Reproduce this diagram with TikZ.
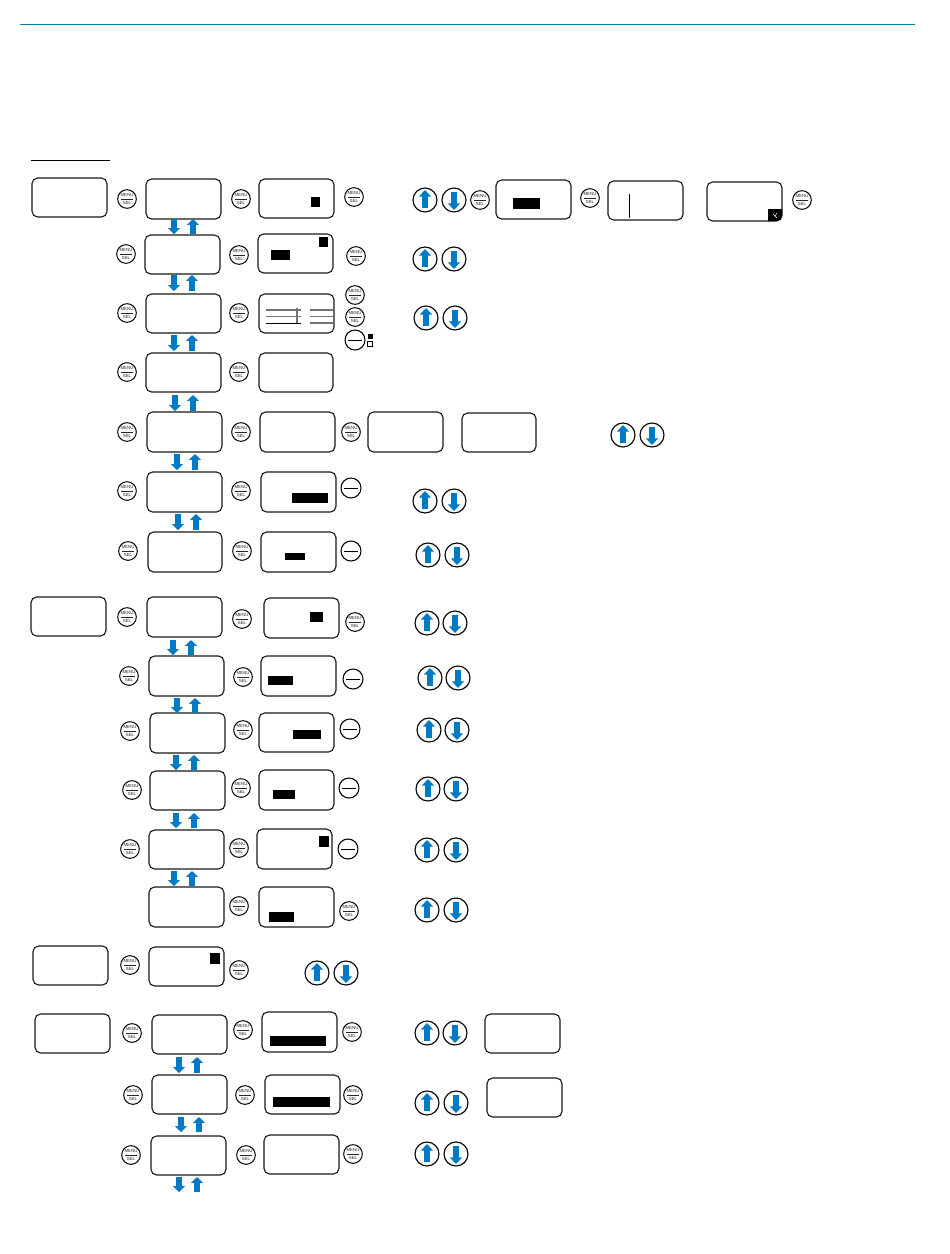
\documentclass[tikz,border=0pt]{standalone}
\usepackage{fontspec}
\setmainfont{Liberation Sans}
\usetikzlibrary{arrows.meta}
\definecolor{sblue}{RGB}{0,122,194}
\definecolor{steal}{RGB}{0,130,160}
\newcounter{nn}
\tikzset{
  lcdbox/.style={draw=black!90,line width=0.85pt,rounded corners=4.2pt,inner sep=0pt},
  menubtn/.style={circle,draw=black,line width=0.75pt,minimum size=14pt,inner sep=0pt,align=center,
     font=\fontsize{3.3}{3.8}\selectfont,text=black!85},
  roundbtn/.style={circle,draw=black,line width=0.8pt,minimum size=#1,inner sep=0pt},
  roundbtn/.default=15pt,
  arrowbtn/.style={circle,draw=black,line width=0.85pt,minimum size=18pt,inner sep=0pt},
  flowarrow/.style={draw=sblue,line width=3.8pt,-{Triangle[length=4.4pt,width=8.8pt]}},
  btnarrow/.style={draw=sblue,line width=4pt,-{Triangle[length=5pt,width=9pt]}},
  graybar/.style={draw=black!55,line width=0.8pt},
  blackbar/.style={draw=black,line width=0.7pt},
}
\newcommand{\lcd}[5]{\node[lcdbox,minimum width={(#4-#2)*0.75pt},minimum height={(#5-#3)*0.75pt}] (#1) at ({(#2+#4)/2},{(#3+#5)/2}) {};}
\newcommand{\mbtn}[2]{\stepcounter{nn}\node[menubtn] (m\thenn) at (#1,#2) {\underline{MENU}\\SEL};}
\newcommand{\minbtn}[2]{\stepcounter{nn}\node[roundbtn] (n\thenn) at (#1,#2) {};\draw[black,line width=0.75pt] (#1-7,#2) -- (#1+7,#2);}
\newcommand{\updn}[3]{%
  \stepcounter{nn}\node[arrowbtn] (u\thenn) at (#1,#3) {};
  \coordinate (ua\thenn) at (#1,#3+8); \coordinate (ub\thenn) at (#1,#3-10);
  \draw[btnarrow] (ua\thenn) -- (ub\thenn);
  \node[arrowbtn] (d\thenn) at (#2,#3) {};
  \coordinate (da\thenn) at (#2,#3-8); \coordinate (db\thenn) at (#2,#3+10);
  \draw[btnarrow] (da\thenn) -- (db\thenn);}
\newcommand{\blk}[4]{\fill[black] (#1,#2) rectangle (#3,#4);}
\newcommand{\flow}[6]{%
  \stepcounter{nn}
  \coordinate (fa\thenn) at (#3,#5); \coordinate (fb\thenn) at (#3,#6);
  \coordinate (fc\thenn) at (#4,#6); \coordinate (fd\thenn) at (#4,#5);
  \draw[flowarrow] (fa\thenn) -- (fb\thenn);
  \draw[flowarrow] (fc\thenn) -- (fd\thenn);}
\begin{document}
\begin{tikzpicture}[x=0.75pt,y=-0.75pt]
\useasboundingbox (0,0) rectangle (950,1254);
\coordinate (ra) at (20,24); \coordinate (rb) at (915,24);
\draw[steal,line width=0.7pt] (ra) -- (rb);
\coordinate (rc) at (31,160); \coordinate (rd) at (110,160);
\draw[black,line width=0.7pt] (rc) -- (rd);
% row 1
\lcd{a1}{32}{178}{107}{217}\lcd{b1}{146}{179}{221}{219}\lcd{c1}{259}{179}{334}{218}
\mbtn{127}{199}\mbtn{241}{199}\mbtn{354}{197}\updn{425}{454}{200}\mbtn{480}{200}
\lcd{e1}{496}{180}{571}{219}\mbtn{590}{198}\lcd{f1}{608}{181}{683}{220}\lcd{g1}{707}{182}{782}{221}\mbtn{802}{200}
\blk{311}{197}{320}{207}\blk{513}{198}{540}{209}
\coordinate (va) at (629,194); \coordinate (vb) at (629,218); \draw[black,line width=0.6pt] (va) -- (vb);
\fill[black] (768,209) -- (782,209) -- (782,216) arc[start angle=0,end angle=90,radius=5] -- (768,221) -- cycle;
\draw[white,line width=0.35pt] (773,214) -- (777,218) (777,213) -- (775,216);
% row 2
\lcd{b2}{145}{235}{220}{274}\lcd{c2}{258}{234}{333}{273}
\mbtn{126}{254}\mbtn{239}{255}\mbtn{356}{256}\updn{425}{454}{259}
\blk{319}{237}{328}{247}\blk{271}{250}{290}{260}
% row 3
\lcd{b3}{146}{294}{221}{333}\lcd{c3}{259}{294}{334}{333}
\mbtn{127}{313}\mbtn{239}{313}\mbtn{355}{295}\mbtn{355}{317}\minbtn{355}{340}\updn{426}{455}{318}
\fill[black] (367.5,334) rectangle (372.5,339);
\draw[black,line width=0.7pt] (367.5,341) rectangle (372.5,346);
\draw[graybar] (266,310) -- (301,310) (266,316.5) -- (301,316.5) (310,310) -- (333,310) (310,316.5) -- (333,316.5) (310,323) -- (333,323) (297,308) -- (297,323);
\draw[blackbar] (266,323) -- (301,323);
% row 4
\lcd{b4}{146}{353}{221}{392}\lcd{c4}{259}{353}{333}{392}
\mbtn{127}{372}\mbtn{239}{372}
% row 5
\lcd{b5}{147}{412}{222}{452}\lcd{c5}{260}{412}{335}{452}\lcd{e5}{368}{412}{443}{452}\lcd{f5}{462}{413}{536}{452}
\mbtn{127}{432}\mbtn{241}{432}\mbtn{351}{432}\updn{623}{652}{435}
% row 6
\lcd{b6}{147}{472}{222}{512}\lcd{c6}{261}{472}{336}{512}
\mbtn{127}{491}\mbtn{241}{491}\minbtn{351}{488}\updn{425}{454}{501}
\blk{292}{493}{328}{503}
% row 7
\lcd{b7}{148}{532}{222}{572}\lcd{c7}{261}{532}{336}{572}
\mbtn{128}{551}\mbtn{242}{551}\minbtn{351}{551}\updn{428}{457}{555}
\blk{285}{553}{305}{560}
% row 8
\lcd{a8}{31}{597}{106}{636}\lcd{b8}{147}{597}{222}{637}\lcd{c8}{264}{598}{339}{638}
\mbtn{127}{617}\mbtn{242}{619}\mbtn{355}{622}\updn{427}{455}{623}
\blk{310}{612}{323}{622}
% row 9
\lcd{b9}{149}{656}{224}{696}\lcd{c9}{261}{656}{336}{696}
\mbtn{129}{676}\mbtn{243}{677}\minbtn{353}{679}\updn{430}{458}{678}
\blk{268}{676}{293}{685}
% row 10
\lcd{b10}{150}{713}{225}{753}\lcd{c10}{259}{713}{334}{752}
\mbtn{130}{731}\mbtn{243}{730}\minbtn{350}{729}\updn{429}{457}{730}
\blk{293}{730}{321}{739}
% row 11
\lcd{b11}{150}{771}{225}{810}\lcd{c11}{259}{770}{334}{810}
\mbtn{132}{790}\mbtn{241}{788}\minbtn{349}{788}\updn{428}{456}{789}
\blk{273}{790}{295}{799}
% row 12
\lcd{b12}{149}{830}{224}{869}\lcd{c12}{257}{829}{332}{869}
\mbtn{130}{849}\mbtn{239}{848}\minbtn{348}{849}\updn{427}{456}{850}
\blk{319}{836}{329}{847}
% row 13
\lcd{b13}{149}{887}{224}{927}\lcd{c13}{259}{887}{334}{927}
\mbtn{239}{906}\mbtn{349}{911}\updn{427}{456}{910}
\blk{269}{912}{294}{922}
% row 14
\lcd{a14}{33}{946}{108}{985}\lcd{b14}{149}{947}{224}{986}
\mbtn{130}{965}\mbtn{239}{970}\updn{317}{346}{973}
\blk{210}{953}{220}{964}
% row 15
\lcd{a15}{35}{1014}{110}{1053}\lcd{b15}{152}{1015}{227}{1054}\lcd{c15}{262}{1012}{337}{1052}\lcd{e15}{485}{1014}{560}{1053}
\mbtn{132}{1033}\mbtn{243}{1030}\mbtn{352}{1032}\updn{427}{455}{1033}
\blk{270}{1036}{326}{1046}
% row 16
\lcd{b16}{152}{1075}{227}{1114}\lcd{c16}{265}{1075}{340}{1114}\lcd{e16}{487}{1078}{562}{1117}
\mbtn{133}{1095}\mbtn{245}{1095}\mbtn{353}{1095}\updn{427}{456}{1103}
\blk{273}{1097}{330}{1107}
% row 17
\lcd{b17}{151}{1136}{226}{1175}\lcd{c17}{264}{1135}{339}{1174}
\mbtn{131}{1155}\mbtn{246}{1155}\mbtn{353}{1154}\updn{427}{456}{1154}
% flow arrows
\flow{b1}{b2}{174}{193}{219}{234}
\flow{b2}{b3}{174}{192}{275}{291}
\flow{b3}{b4}{174}{192}{335}{351}
\flow{b4}{b5}{175}{193}{395}{411}
\flow{b5}{b6}{177}{195}{454}{470}
\flow{b6}{b7}{178}{196}{514}{530}
\flow{b8}{b9}{173}{191}{640}{655}
\flow{b9}{b10}{177}{195}{698}{713}
\flow{b10}{b11}{176}{194}{755}{770}
\flow{b11}{b12}{176}{194}{813}{828}
\flow{b12}{b13}{174}{192}{871}{886}
\flow{b15}{b16}{179}{197}{1057}{1073}
\flow{b16}{b17}{181}{199}{1117}{1132}
\flow{b17}{}{179}{197}{1177}{1192}
\end{tikzpicture}
\end{document}
